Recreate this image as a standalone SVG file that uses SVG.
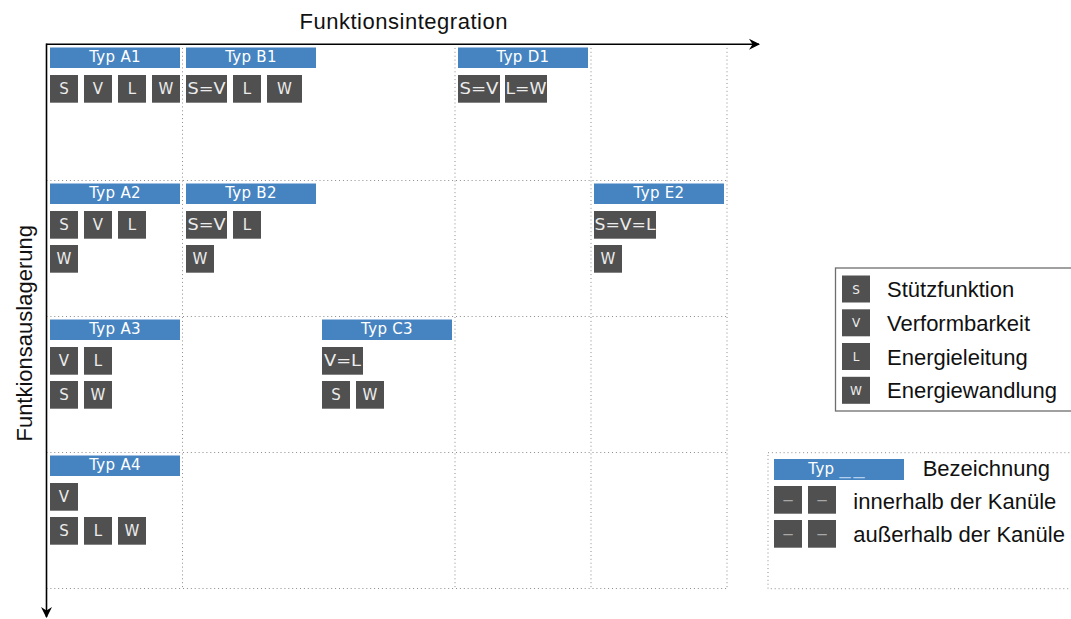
<svg xmlns="http://www.w3.org/2000/svg" width="1071" height="619" viewBox="0 0 1071 619">
<style>
  .hd{fill:#4684c1}
  .bx{fill:#505050}
  .ht{font-family:"DejaVu Sans",sans-serif;font-size:15px;fill:#ffffff;text-anchor:middle;letter-spacing:0.3px}
  .bt{font-family:"DejaVu Sans",sans-serif;font-size:15px;fill:#ececec;text-anchor:middle}
  .lt{font-family:"DejaVu Sans",sans-serif;font-size:12px;fill:#ececec;text-anchor:middle}
  .big{font-family:"Liberation Sans",Arial,sans-serif;font-size:22px;fill:#111}
  .grid{stroke:#8c8c8c;stroke-width:1;stroke-dasharray:1 2.9;fill:none}
  .axis{stroke:#000;stroke-width:1.6;fill:none}
  .dash{font-family:"DejaVu Sans",sans-serif;font-size:15px;fill:#a8a8a8;text-anchor:middle}
</style>
<defs>
  <marker id="arr" markerUnits="userSpaceOnUse" viewBox="-11 -7 13 14" refX="0" refY="0" markerWidth="13" markerHeight="14" orient="auto">
    <path d="M1,0 L-10,-5.5 L-6.5,0 L-10,5.5 Z" fill="#000"/>
  </marker>
</defs>
<rect width="1071" height="619" fill="#ffffff"/>

<g id="grid">
  <line class="grid" x1="46.5" y1="180.5" x2="727" y2="180.5"/>
  <line class="grid" x1="46.5" y1="316.5" x2="727" y2="316.5"/>
  <line class="grid" x1="46.5" y1="452.5" x2="727" y2="452.5"/>
  <line class="grid" x1="46.5" y1="588.5" x2="727" y2="588.5"/>
  <line class="grid" x1="182.5" y1="44" x2="182.5" y2="588.5"/>
  <line class="grid" x1="455" y1="44" x2="455" y2="588.5"/>
  <line class="grid" x1="591" y1="44" x2="591" y2="588.5"/>
  <line class="grid" x1="727" y1="44" x2="727" y2="588.5"/>
</g>

<g id="connectors">
  <line class="axis" x1="46.5" y1="44.3" x2="759" y2="44.3" marker-end="url(#arr)"/>
  <line class="axis" x1="46.5" y1="43.5" x2="46.5" y2="617" marker-end="url(#arr)"/>
</g>

<text class="big" x="299.5" y="29" textLength="208" lengthAdjust="spacing">Funktionsintegration</text>
<text class="big" transform="translate(32,333.3) rotate(-90)" text-anchor="middle">Funtkionsauslagerung</text>

<g id="typA1">
  <rect class="hd" x="50" y="47.5" width="130" height="20.5"/>
  <text class="ht" x="115" y="62">Typ A1</text>
  <rect class="bx" x="50" y="75" width="28" height="27.7"/><text class="bt" x="64" y="94.3">S</text>
  <rect class="bx" x="84" y="75" width="28" height="27.7"/><text class="bt" x="98" y="94.3">V</text>
  <rect class="bx" x="118" y="75" width="28" height="27.7"/><text class="bt" x="132" y="94.3">L</text>
  <rect class="bx" x="152" y="75" width="28" height="27.7"/><text class="bt" x="166" y="94.3">W</text>
</g>

<g id="typB1">
  <rect class="hd" x="186" y="47.5" width="130" height="20.5"/>
  <text class="ht" x="251" y="62">Typ B1</text>
  <rect class="bx" x="186" y="75" width="41" height="27.7"/><text class="bt" x="206.5" y="94.3" textLength="38" lengthAdjust="spacingAndGlyphs">S=V</text>
  <rect class="bx" x="233" y="75" width="28" height="27.7"/><text class="bt" x="247" y="94.3">L</text>
  <rect class="bx" x="267" y="75" width="35" height="27.7"/><text class="bt" x="284.5" y="94.3">W</text>
</g>

<g id="typD1">
  <rect class="hd" x="458" y="47.5" width="130" height="20.5"/>
  <text class="ht" x="523" y="62">Typ D1</text>
  <rect class="bx" x="458" y="75" width="42" height="27.7"/><text class="bt" x="479" y="94.3" textLength="39" lengthAdjust="spacingAndGlyphs">S=V</text>
  <rect class="bx" x="505" y="75" width="42" height="27.7"/><text class="bt" x="526" y="94.3" textLength="41" lengthAdjust="spacingAndGlyphs">L=W</text>
</g>

<g id="typA2">
  <rect class="hd" x="50" y="183.5" width="130" height="20.5"/>
  <text class="ht" x="115" y="198">Typ A2</text>
  <rect class="bx" x="50" y="211" width="28" height="27.7"/><text class="bt" x="64" y="230.3">S</text>
  <rect class="bx" x="84" y="211" width="28" height="27.7"/><text class="bt" x="98" y="230.3">V</text>
  <rect class="bx" x="118" y="211" width="28" height="27.7"/><text class="bt" x="132" y="230.3">L</text>
  <rect class="bx" x="50" y="245" width="28" height="27.7"/><text class="bt" x="64" y="264.3">W</text>
</g>

<g id="typB2">
  <rect class="hd" x="186" y="183.5" width="130" height="20.5"/>
  <text class="ht" x="251" y="198">Typ B2</text>
  <rect class="bx" x="186" y="211" width="41" height="27.7"/><text class="bt" x="206.5" y="230.3" textLength="38" lengthAdjust="spacingAndGlyphs">S=V</text>
  <rect class="bx" x="233" y="211" width="28" height="27.7"/><text class="bt" x="247" y="230.3">L</text>
  <rect class="bx" x="186" y="245" width="28" height="27.7"/><text class="bt" x="200" y="264.3">W</text>
</g>

<g id="typE2">
  <rect class="hd" x="594" y="183.5" width="130" height="20.5"/>
  <text class="ht" x="659" y="198">Typ E2</text>
  <rect class="bx" x="594" y="211" width="62" height="27.7"/><text class="bt" x="625" y="230.3" textLength="61" lengthAdjust="spacingAndGlyphs">S=V=L</text>
  <rect class="bx" x="594" y="245" width="28" height="27.7"/><text class="bt" x="608" y="264.3">W</text>
</g>

<g id="typA3">
  <rect class="hd" x="50" y="319.5" width="130" height="20.5"/>
  <text class="ht" x="115" y="334">Typ A3</text>
  <rect class="bx" x="50" y="347" width="28" height="27.7"/><text class="bt" x="64" y="366.3">V</text>
  <rect class="bx" x="84" y="347" width="28" height="27.7"/><text class="bt" x="98" y="366.3">L</text>
  <rect class="bx" x="50" y="381" width="28" height="27.7"/><text class="bt" x="64" y="400.3">S</text>
  <rect class="bx" x="84" y="381" width="28" height="27.7"/><text class="bt" x="98" y="400.3">W</text>
</g>

<g id="typC3">
  <rect class="hd" x="322" y="319.5" width="130" height="20.5"/>
  <text class="ht" x="387" y="334">Typ C3</text>
  <rect class="bx" x="322" y="347" width="41" height="27.7"/><text class="bt" x="342.5" y="366.3" textLength="37" lengthAdjust="spacingAndGlyphs">V=L</text>
  <rect class="bx" x="322" y="381" width="28" height="27.7"/><text class="bt" x="336" y="400.3">S</text>
  <rect class="bx" x="356" y="381" width="28" height="27.7"/><text class="bt" x="370" y="400.3">W</text>
</g>

<g id="typA4">
  <rect class="hd" x="50" y="455.5" width="130" height="20.5"/>
  <text class="ht" x="115" y="470">Typ A4</text>
  <rect class="bx" x="50" y="483" width="28" height="27.7"/><text class="bt" x="64" y="502.3">V</text>
  <rect class="bx" x="50" y="517" width="28" height="27.7"/><text class="bt" x="64" y="536.3">S</text>
  <rect class="bx" x="84" y="517" width="28" height="27.7"/><text class="bt" x="98" y="536.3">L</text>
  <rect class="bx" x="118" y="517" width="28" height="27.7"/><text class="bt" x="132" y="536.3">W</text>
</g>

<g id="legend-functions">
  <rect x="835.5" y="268" width="245" height="143" fill="#fff" stroke="#6e6e6e" stroke-width="1.3"/>
  <rect class="bx" x="842" y="275.5" width="28" height="27"/><text class="lt" x="856" y="293.5">S</text>
  <text class="big" x="887" y="297">Stützfunktion</text>
  <rect class="bx" x="842" y="309.3" width="28" height="27"/><text class="lt" x="856" y="327.3">V</text>
  <text class="big" x="887" y="330.8">Verformbarkeit</text>
  <rect class="bx" x="842" y="343" width="28" height="27"/><text class="lt" x="856" y="361">L</text>
  <text class="big" x="887" y="364.5">Energieleitung</text>
  <rect class="bx" x="842" y="376.8" width="28" height="27"/><text class="lt" x="856" y="394.8">W</text>
  <text class="big" x="887" y="398.3">Energiewandlung</text>
</g>

<g id="legend-notation">
  <rect class="grid" x="768" y="452.7" width="320" height="136"/>
  <rect class="hd" x="774" y="459" width="130" height="21"/>
  <text class="ht" x="808.3" y="474" style="text-anchor:start">Typ <tspan fill="#b3cfee" textLength="11.5" lengthAdjust="spacingAndGlyphs">_</tspan><tspan fill="#b3cfee" dx="2.5" textLength="11.5" lengthAdjust="spacingAndGlyphs">_</tspan></text>
  <text class="big" x="922.7" y="476">Bezeichnung</text>
  <rect class="bx" x="774" y="486" width="28" height="27.7"/><text class="dash" x="788" y="505" textLength="11.6" lengthAdjust="spacingAndGlyphs">–</text>
  <rect class="bx" x="808" y="486" width="28" height="27.7"/><text class="dash" x="822" y="505" textLength="11.6" lengthAdjust="spacingAndGlyphs">–</text>
  <text class="big" x="853.3" y="508.7">innerhalb der Kanüle</text>
  <rect class="bx" x="774" y="520" width="28" height="27.7"/><text class="dash" x="788" y="539" textLength="11.6" lengthAdjust="spacingAndGlyphs">–</text>
  <rect class="bx" x="808" y="520" width="28" height="27.7"/><text class="dash" x="822" y="539" textLength="11.6" lengthAdjust="spacingAndGlyphs">–</text>
  <text class="big" x="853.3" y="542.3">außerhalb der Kanüle</text>
</g>
</svg>
